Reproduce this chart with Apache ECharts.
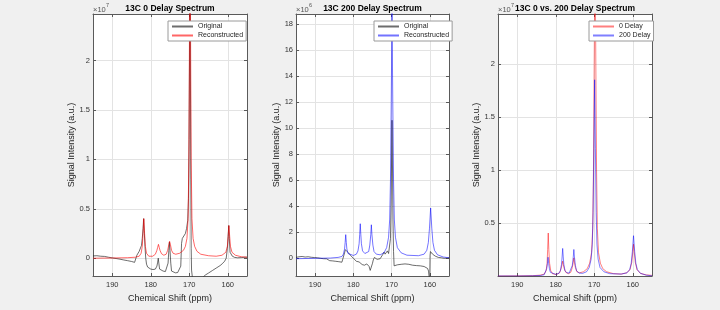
<!DOCTYPE html>
<html>
<head>
<meta charset="utf-8">
<script src="https://cdn.jsdelivr.net/npm/echarts@6/dist/echarts.min.js"></script>
<style>
html, body { margin: 0; padding: 0; background: #f0f0f0; }
#chart { width: 720px; height: 310px; }
</style>
</head>
<body>
<div id="chart"></div>
<script>
// tick values (ppm axis runs backwards)
var ppmTicks = [160, 170, 180, 190];
var yTicks0 = [0, 0.5, 1, 1.5, 2];
var yTicks200 = [0, 2, 4, 6, 8, 10, 12, 14, 16, 18];
var yTicksCmp = [0.5, 1, 1.5, 2];

// panel 1: 13C 0 delay, values x 1e7
var orig0 = [[195,0.023],[194,0.025],[193,0.02],[192,0.018],[191,0.01],[190,0.003],[189,-0.003],[188,-0.01],[187,-0.018],[186,-0.025],[185,-0.033],[184.2,-0.042],[183.8,-0.045],[183.6,0.03],[183.3,0.05],[183,0.07],[182.7,0.09],[182.4,0.13],[182.2,0.2],[182,0.3],[181.85,0.4],[181.7,0.28],[181.5,0.12],[181.3,0.0],[181.1,-0.06],[180.8,-0.09],[180.4,-0.105],[180,-0.11],[179.4,-0.115],[178.8,-0.11],[178.4,-0.08],[178.2,-0.04],[178.05,0.0],[177.9,-0.05],[177.7,-0.11],[177.3,-0.125],[176.8,-0.13],[176.2,-0.135],[175.8,-0.14],[175.5,-0.05],[175.3,0.08],[175.15,0.165],[175,0.08],[174.8,-0.05],[174.6,-0.13],[174.2,-0.145],[173.6,-0.148],[173,-0.145],[172.5,-0.135],[172.2,-0.08],[172.0,0.15],[171.8,0.2],[171.4,0.22],[171,0.25],[170.7,0.3],[170.4,0.38],[170.2,0.6],[170.05,1.2],[169.9,2.2],[169.8,3.0],[169.7,2.0],[169.6,0.8],[169.5,0.1],[169.4,-0.12],[169.2,-0.19],[169,-0.22],[168,-0.23],[167,-0.21],[166.4,-0.19],[165.8,-0.17],[165,-0.15],[164,-0.125],[163,-0.1],[162,-0.075],[161.4,-0.055],[160.8,-0.03],[160.4,0.0],[160.1,0.1],[159.9,0.22],[159.75,0.33],[159.6,0.2],[159.4,0.06],[159.2,0.04],[158.8,0.02],[158.2,0.008],[157.5,0.004],[156.5,0.006],[155.5,0.01],[155,0.01]];
var recon0 = [[195,0.0],[190,0.002],[186,0.005],[184,0.01],[183,0.02],[182.5,0.05],[182.2,0.12],[182.0,0.25],[181.8,0.40],[181.6,0.25],[181.4,0.12],[181.1,0.05],[180.5,0.02],[179.5,0.02],[178.8,0.04],[178.4,0.08],[178.2,0.11],[178.0,0.14],[177.8,0.11],[177.6,0.08],[177.2,0.045],[176.6,0.03],[176.0,0.04],[175.6,0.08],[175.3,0.14],[175.1,0.17],[174.9,0.14],[174.6,0.08],[174.2,0.05],[173.5,0.04],[172.5,0.05],[171.5,0.08],[171.0,0.12],[170.6,0.2],[170.3,0.4],[170.1,1.0],[170.0,1.8],[169.9,2.6],[169.8,3.2],[169.7,2.6],[169.6,1.8],[169.5,1.0],[169.3,0.4],[169.0,0.2],[168.6,0.12],[168.0,0.07],[167,0.04],[165,0.025],[163,0.02],[161.5,0.03],[160.5,0.06],[160.1,0.12],[159.9,0.22],[159.7,0.33],[159.5,0.22],[159.3,0.12],[158.9,0.06],[158.0,0.03],[156.5,0.015],[155,0.01]];

// panel 2: 13C 200 delay, values x 1e6
var orig200 = [[195,0.05],[194.6,-0.02],[194.2,0.1],[193.8,0.0],[193.4,0.12],[193,-0.03],[192.6,0.08],[192.2,0.02],[191.8,0.1],[191.4,-0.04],[191,0.06],[190.6,0.0],[190.2,0.04],[189.8,-0.05],[189.4,0.02],[189,-0.08],[188.6,-0.02],[188.2,-0.12],[187.8,-0.05],[187.4,-0.15],[187,-0.06],[186.6,-0.1],[186.2,-0.2],[185.8,-0.12],[185.4,-0.22],[185,-0.15],[184.6,-0.25],[184.2,-0.2],[183.8,-0.28],[183.4,-0.25],[183,-0.32],[182.7,-0.42],[182.5,-0.2],[182.3,0.4],[182.1,0.64],[181.9,0.6],[181.6,0.5],[181.2,0.38],[180.8,0.22],[180.4,0.1],[180,-0.02],[179.6,-0.12],[179.2,-0.25],[178.8,-0.35],[178.5,-0.3],[178.2,-0.15],[178,-0.3],[177.7,-0.5],[177.4,-0.45],[177.1,-0.55],[176.8,-0.4],[176.5,-0.45],[176.2,-0.35],[175.9,-0.64],[175.6,-0.95],[175.3,-0.85],[175,-0.4],[174.8,-0.15],[174.5,0.05],[174.2,0.0],[173.8,-0.1],[173.4,0.0],[173,-0.05],[172.6,0.1],[172.3,0.28],[172,0.46],[171.7,0.3],[171.4,0.25],[171.1,0.55],[170.8,0.35],[170.5,0.5],[170.3,1.5],[170.15,4],[170,8],[169.9,10.6],[169.8,8],[169.65,3],[169.5,0.5],[169.35,-0.6],[169.2,-0.7],[169,-0.56],[168.5,-0.52],[168,-0.58],[167.5,-0.48],[167,-0.5],[166.5,-0.45],[166,-0.52],[165.5,-0.48],[165,-0.5],[164.5,-0.55],[164,-0.5],[163.5,-0.58],[163,-0.55],[162.5,-0.6],[162,-0.62],[161.5,-0.65],[161,-0.7],[160.6,-0.8],[160.35,-1.0],[160.15,-1.6],[160.05,-2.0],[159.95,0.2],[159.85,0.5],[159.6,0.4],[159.3,0.3],[159,0.2],[158.6,0.15],[158.2,0.1],[157.8,0.05],[157.4,0.1],[157,0.02],[156.6,0.06],[156.2,-0.02],[155.8,0.05],[155.4,0.0],[155,0.03]];
var recon200 = [[195,-0.05],[190,-0.02],[186,0.0],[184,0.05],[183,0.12],[182.6,0.3],[182.3,0.7],[182.15,1.2],[182.0,1.8],[181.85,1.2],[181.7,0.7],[181.4,0.35],[181.0,0.22],[180,0.2],[179.2,0.3],[178.8,0.55],[178.5,1.1],[178.35,1.8],[178.2,2.64],[178.05,1.8],[177.9,1.1],[177.6,0.55],[177.0,0.35],[176.5,0.35],[176.0,0.5],[175.7,1.0],[175.45,1.8],[175.3,2.56],[175.15,1.8],[174.9,1.0],[174.6,0.5],[174.0,0.3],[173,0.25],[172,0.4],[171.3,0.8],[170.8,1.6],[170.5,3],[170.3,6],[170.1,12],[169.9,19.2],[169.7,12],[169.5,6],[169.3,3],[169.0,1.6],[168.5,0.8],[167.5,0.4],[166,0.22],[163,0.18],[161.5,0.3],[160.8,0.6],[160.4,1.2],[160.1,2.3],[159.8,3.85],[159.5,2.3],[159.2,1.2],[158.8,0.6],[158.0,0.25],[156.5,0.08],[155,0.02]];

// panel 3: comparison, values x 1e7
var delay0 = [[195,0],[190,0.001],[186,0.003],[184,0.008],[183,0.018],[182.5,0.05],[182.25,0.12],[182.1,0.25],[181.95,0.405],[181.8,0.25],[181.6,0.12],[181.3,0.05],[180.8,0.02],[179.8,0.015],[179,0.03],[178.6,0.07],[178.35,0.11],[178.2,0.14],[178.05,0.11],[177.8,0.07],[177.4,0.035],[176.7,0.022],[176.1,0.035],[175.7,0.08],[175.45,0.13],[175.3,0.17],[175.15,0.13],[174.9,0.08],[174.5,0.04],[173.8,0.03],[172.8,0.04],[171.8,0.07],[171.2,0.12],[170.7,0.22],[170.4,0.45],[170.2,1.0],[170.05,1.8],[169.9,2.6],[169.8,3.0],[169.7,2.6],[169.55,1.8],[169.4,1.0],[169.2,0.45],[168.9,0.22],[168.4,0.12],[167.8,0.07],[166.8,0.04],[165,0.022],[163,0.018],[161.6,0.03],[160.7,0.06],[160.25,0.13],[160.0,0.22],[159.8,0.3],[159.6,0.22],[159.35,0.13],[158.9,0.06],[158,0.025],[156.5,0.01],[155,0.006]];
var delay200 = [[195,0],[190,0.0],[186,0.002],[184,0.005],[183,0.012],[182.6,0.03],[182.35,0.07],[182.15,0.12],[182.0,0.177],[181.85,0.12],[181.65,0.07],[181.4,0.035],[180.9,0.018],[180,0.015],[179.2,0.025],[178.8,0.05],[178.5,0.11],[178.35,0.18],[178.2,0.26],[178.05,0.18],[177.9,0.11],[177.6,0.05],[177.1,0.03],[176.5,0.028],[176,0.045],[175.7,0.1],[175.45,0.18],[175.3,0.25],[175.15,0.18],[174.9,0.1],[174.6,0.05],[174,0.028],[173,0.025],[172,0.04],[171.3,0.08],[170.8,0.16],[170.5,0.3],[170.3,0.6],[170.1,1.2],[169.9,1.85],[169.7,1.2],[169.5,0.6],[169.3,0.3],[169,0.16],[168.5,0.08],[167.5,0.04],[166,0.022],[163,0.018],[161.5,0.03],[160.8,0.06],[160.4,0.12],[160.1,0.23],[159.8,0.38],[159.5,0.23],[159.2,0.12],[158.8,0.06],[158,0.025],[156.5,0.008],[155,0.002]];

var dom = document.getElementById("chart");
var myChart = echarts.init(dom);

var font = 'Liberation Sans, Arial, sans-serif';
var axisCol = '#5a5a5a';
var gridCol = '#e3e3e3';

var yRanges = [[-0.18, 2.47], [-1.38, 18.77], [0, 2.47]];
var yTickSets = [yTicks0, yTicks200, yTicksCmp];
var lefts = [93, 296, 498];
var widths = [154, 153, 154];
var yNameGaps = [12, 11, 12];

function xAx(i, top) {
    return {
        type: 'value', gridIndex: i, position: top ? 'top' : 'bottom',
        min: 155, max: 195, inverse: true,
        name: top ? '' : 'Chemical Shift (ppm)',
        nameLocation: 'middle', nameGap: 14,
        nameTextStyle: { fontFamily: font, fontSize: 9, color: '#262626' },
        axisLine: { show: true, onZero: false, lineStyle: { color: axisCol, width: 1 } },
        axisTick: { show: true, inside: true, length: 3, customValues: ppmTicks, lineStyle: { color: axisCol } },
        axisLabel: { show: !top, customValues: ppmTicks, fontFamily: font, fontSize: 7.5, color: '#333', margin: 5 },
        splitLine: { show: !top, lineStyle: { color: gridCol, width: 1 } }
    };
}

function yAx(i, right) {
    return {
        type: 'value', gridIndex: i, position: right ? 'right' : 'left',
        min: yRanges[i][0], max: yRanges[i][1],
        name: right ? '' : 'Signal Intensity (a.u.)',
        nameLocation: 'middle', nameGap: yNameGaps[i],
        nameTextStyle: { fontFamily: font, fontSize: 9, color: '#262626' },
        axisLine: { show: true, onZero: false, lineStyle: { color: axisCol, width: 1 } },
        axisTick: { show: true, inside: true, length: 3, customValues: yTickSets[i], lineStyle: { color: axisCol } },
        axisLabel: { show: !right, customValues: yTickSets[i], fontFamily: font, fontSize: 7.5, color: '#333', margin: 3 },
        splitLine: { show: !right, lineStyle: { color: gridCol, width: 1 } }
    };
}

function line(name, data, i, color) {
    return {
        name: name, type: 'line', xAxisIndex: i, yAxisIndex: i,
        data: data, showSymbol: false, symbol: 'none',
        lineStyle: { color: color, width: 1 }, itemStyle: { color: color },
        animation: false, z: 3
    };
}

function legendOf(i, names, left) {
    return {
        left: left, top: 21, orient: 'vertical', data: names,
        itemWidth: 21, itemHeight: 6.5, itemGap: 2, itemTextGap: 3,
        padding: [2, 3, 2, 3],
        backgroundColor: '#fff', borderColor: '#9a9a9a', borderWidth: 1,
        itemStyle: { color: 'transparent', borderColor: 'transparent', borderWidth: 0, opacity: 0 },
        textStyle: { fontFamily: font, fontSize: 7, color: '#262626' },
        formatter: function (n) { return n.split('|')[0]; },
        selectedMode: false
    };
}

var titles = ['13C 0 Delay Spectrum', '13C 200 Delay Spectrum', '13C 0 vs. 200 Delay Spectrum'];
var expo = ['7', '6', '7'];

var graphics = [];
for (var g = 0; g < 3; g++) {
    graphics.push({ type: 'text', left: lefts[g], top: 6, style: { text: '\u00d710', font: '7.5px ' + font, fill: '#555' } });
    graphics.push({ type: 'text', left: lefts[g] + 13, top: 2, style: { text: expo[g], font: '5.5px ' + font, fill: '#555' } });
}

option = {
    backgroundColor: '#f0f0f0',
    animation: false,
    title: titles.map(function (t, i) {
        return {
            text: t, left: lefts[i] + widths[i] / 2, top: 4, padding: 0, textAlign: 'center',
            textStyle: { fontFamily: font, fontSize: 8.5, fontWeight: 'bold', color: '#000' }
        };
    }),
    grid: [0, 1, 2].map(function (i) {
        return { left: lefts[i], top: 14, width: widths[i], height: 262, show: true, backgroundColor: '#fff', borderWidth: 0 };
    }),
    xAxis: [xAx(0), xAx(1), xAx(2), xAx(0, true), xAx(1, true), xAx(2, true)],
    yAxis: [yAx(0), yAx(1), yAx(2), yAx(0, true), yAx(1, true), yAx(2, true)],
    legend: [
        legendOf(0, ['Original', 'Reconstructed'], 168),
        legendOf(1, ['Original|200', 'Reconstructed|200'], 374),
        legendOf(2, ['0 Delay', '200 Delay'], 589)
    ],
    graphic: graphics,
    series: [
        line('Original', orig0, 0, 'rgba(30,30,30,0.65)'),
        line('Reconstructed', recon0, 0, 'rgba(255,0,0,0.6)'),
        line('Original|200', orig200, 1, 'rgba(30,30,30,0.65)'),
        line('Reconstructed|200', recon200, 1, 'rgba(0,0,255,0.55)'),
        line('0 Delay', delay0, 2, 'rgba(255,0,0,0.5)'),
        line('200 Delay', delay200, 2, 'rgba(0,0,255,0.5)')
    ]
};

if (option && typeof option === 'object') {
    myChart.setOption(option);
}
</script>
</body>
</html>
